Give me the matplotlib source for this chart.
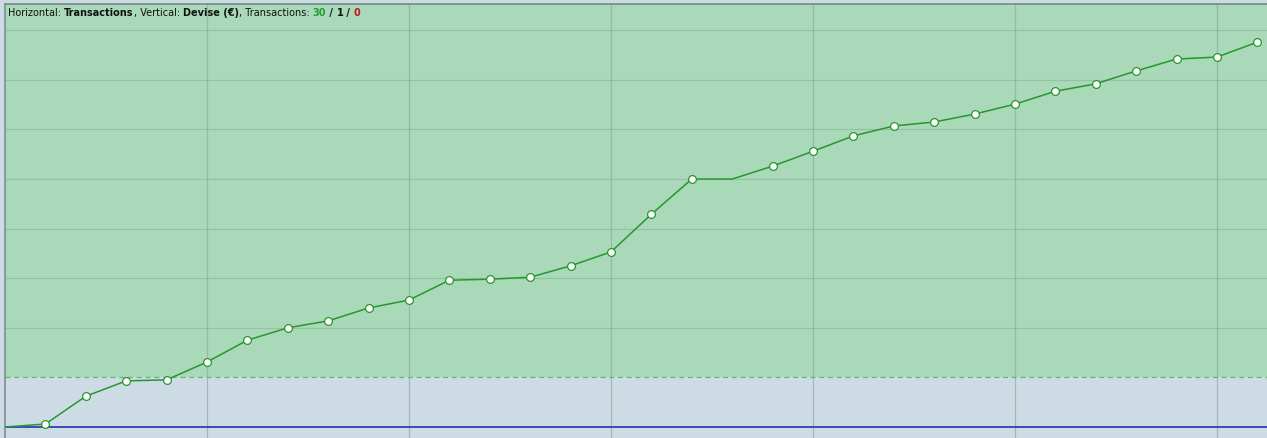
import matplotlib.pyplot as plt
from matplotlib.offsetbox import TextArea, HPacker, AnchoredOffsetbox
import numpy as np

# cumulative balance after each transaction (1 grid unit per step)
trades = list(range(32))
balance = [0.0, 0.06, 0.62, 0.93, 0.95, 1.31, 1.75, 2.0, 2.14, 2.40, 2.56,
           2.96, 2.98, 3.02, 3.25, 3.53, 4.29, 5.0, 5.0, 5.26, 5.56, 5.87,
           6.07, 6.15, 6.31, 6.51, 6.77, 6.92, 7.18, 7.42, 7.46, 7.76]
no_marker = [0, 18]   # start point and the break-even trade
threshold = 1.0

bg = '#cddce4'
green_bg = '#a9d9b8'
line_green = '#289630'

fig = plt.figure(figsize=(12.67, 4.38), dpi=100, facecolor=bg)
ax = fig.add_axes([5 / 1267, 0, 1262 / 1267, 434 / 438])
ax.set_facecolor(bg)

ax.set_xlim(0, 31.24)
ax.set_ylim(-0.222, 8.53)

ax.axhspan(threshold, 20, color=green_bg, zorder=0, lw=0)

for yv in range(2, 9):
    ax.axhline(yv, color='#92c2a2', lw=0.9, zorder=1)
for xv in range(5, 35, 5):
    ax.axvline(xv, color='#93aca6', lw=0.9, alpha=0.75, zorder=1)

ax.axhline(threshold, color='#60b874', lw=0.9, ls=(0, (4, 3)), zorder=2)
ax.axhline(0, color='#2630b0', lw=1.2, zorder=2)

marks = [i for i in trades if i not in no_marker]
ax.plot(trades, balance, '-', color=line_green, lw=1.1, zorder=3,
        marker='o', markevery=marks, markersize=5.6,
        markerfacecolor='white', markeredgecolor=line_green, markeredgewidth=0.9)

ax.set_xticks([])
ax.set_yticks([])
for side in ('right', 'bottom'):
    ax.spines[side].set_visible(False)
ax.spines['left'].set_color('#7b8f98')
ax.spines['top'].set_color('#6f8f86')
ax.spines['left'].set_linewidth(1.2)
ax.spines['top'].set_linewidth(1.2)

fs = 7.0
parts = [("Horizontal: ", 'normal', '#111111'),
         ("Transactions", 'bold', '#111111'),
         (", Vertical: ", 'normal', '#111111'),
         ("Devise (€)", 'bold', '#111111'),
         (", Transactions: ", 'normal', '#111111'),
         ("30", 'bold', '#2a9a34'),
         (" / ", 'bold', '#111111'),
         ("1", 'bold', '#111111'),
         (" / ", 'bold', '#111111'),
         ("0", 'bold', '#c01818')]
boxes = [TextArea(t, textprops=dict(fontsize=fs, fontweight=w, color=c))
         for t, w, c in parts]
pack = HPacker(children=boxes, align='baseline', pad=0, sep=0)
anchored = AnchoredOffsetbox(loc='upper left', child=pack, pad=0, frameon=False,
                             bbox_to_anchor=(0.0025, 0.99),
                             bbox_transform=ax.transAxes, borderpad=0)
ax.add_artist(anchored)

fig.savefig('out.png', dpi=100, facecolor=bg)
